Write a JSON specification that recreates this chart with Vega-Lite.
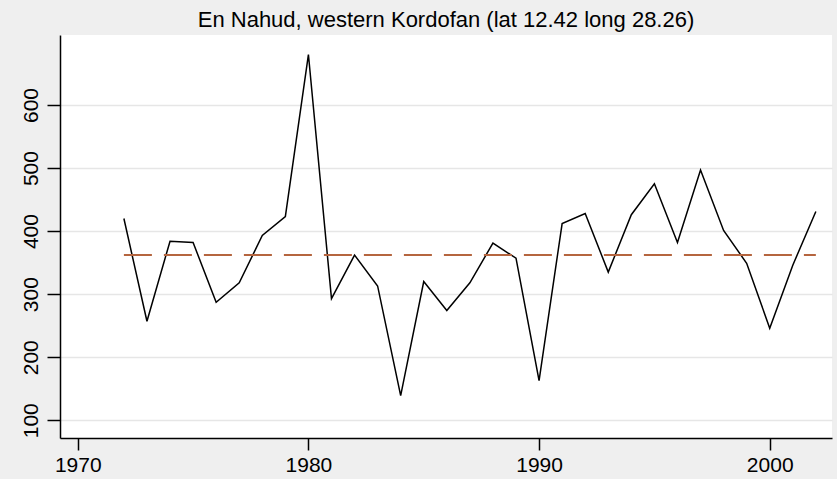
{
  "$schema": "https://vega.github.io/schema/vega-lite/v6.json",
  "width": 772,
  "height": 403,
  "autosize": {"type": "none"},
  "padding": {"left": 60, "top": 35, "right": 5, "bottom": 41},
  "background": "#EFEFEF",
  "title": {
    "text": "En Nahud, western Kordofan (lat 12.42 long 28.26)",
    "anchor": "middle",
    "font": "Liberation Sans",
    "fontSize": 22,
    "fontWeight": "normal",
    "color": "#000000",
    "baseline": "alphabetic",
    "offset": 8,
    "dy": 22
  },
  "config": {
    "view": {"fill": "#FFFFFF", "stroke": null},
    "axis": {
      "labelFont": "Liberation Sans",
      "labelFontSize": 21,
      "labelColor": "#000000",
      "domainColor": "#000000",
      "domainWidth": 1.5,
      "tickColor": "#000000",
      "tickWidth": 1.5,
      "title": null
    }
  },
  "datasets": {
    "rain": [
      {"year": 1972, "rainfall": 420},
      {"year": 1973, "rainfall": 257},
      {"year": 1974, "rainfall": 384},
      {"year": 1975, "rainfall": 382},
      {"year": 1976, "rainfall": 287},
      {"year": 1977, "rainfall": 318},
      {"year": 1978, "rainfall": 393},
      {"year": 1979, "rainfall": 423},
      {"year": 1980, "rainfall": 680},
      {"year": 1981, "rainfall": 293},
      {"year": 1982, "rainfall": 362},
      {"year": 1983, "rainfall": 313},
      {"year": 1984, "rainfall": 139},
      {"year": 1985, "rainfall": 320},
      {"year": 1986, "rainfall": 274},
      {"year": 1987, "rainfall": 318},
      {"year": 1988, "rainfall": 381},
      {"year": 1989, "rainfall": 357},
      {"year": 1990, "rainfall": 163},
      {"year": 1991, "rainfall": 412},
      {"year": 1992, "rainfall": 428},
      {"year": 1993, "rainfall": 335},
      {"year": 1994, "rainfall": 426},
      {"year": 1995, "rainfall": 475},
      {"year": 1996, "rainfall": 382},
      {"year": 1997, "rainfall": 497},
      {"year": 1998, "rainfall": 401},
      {"year": 1999, "rainfall": 349},
      {"year": 2000, "rainfall": 246},
      {"year": 2001, "rainfall": 346},
      {"year": 2002, "rainfall": 431}
    ],
    "mean": [
      {"year": 1972, "rainfall": 362},
      {"year": 2002, "rainfall": 362}
    ]
  },
  "layer": [
    {
      "data": {"name": "rain"},
      "mark": {"type": "line", "color": "#000000", "strokeWidth": 1.5},
      "encoding": {
        "x": {
          "field": "year",
          "type": "quantitative",
          "scale": {"domain": [1969.23, 2002.7], "nice": false, "zero": false},
          "axis": {
            "values": [1970, 1980, 1990, 2000],
            "format": "d",
            "grid": false,
            "tickSize": 12,
            "labelPadding": 4,
            "labelFlush": false
          }
        },
        "y": {
          "field": "rainfall",
          "type": "quantitative",
          "scale": {"domain": [71.9, 711], "nice": false, "zero": false},
          "axis": {
            "values": [100, 200, 300, 400, 500, 600],
            "grid": true,
            "gridColor": "#E6E6E6",
            "gridWidth": 1.5,
            "tickSize": 13,
            "labelAngle": -90,
            "labelAlign": "center",
            "labelBaseline": "alphabetic",
            "labelPadding": 10,
            "labelFlush": false
          }
        }
      }
    },
    {
      "data": {"name": "mean"},
      "mark": {"type": "line", "color": "#B5653F", "strokeWidth": 2, "strokeDash": [28, 12]},
      "encoding": {
        "x": {"field": "year", "type": "quantitative"},
        "y": {"field": "rainfall", "type": "quantitative"}
      }
    }
  ]
}
